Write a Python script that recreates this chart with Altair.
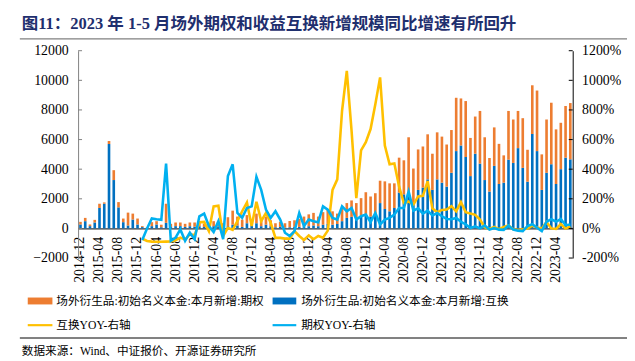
import altair as alt
import pandas as pd


def month_range(year, month, n):
    out = []
    for _ in range(n):
        out.append(f"{year}-{month:02d}")
        month += 1
        if month > 12:
            month = 1
            year += 1
    return out


# categories: 2014-12 .. 2023-07
months = month_range(2014, 12, 104)
tick_months = months[::4]

# 场外衍生品:初始名义本金:本月新增:互换 (blue, bottom of stack)
swap_new = [
    267, 489, 155, 400, 1378, 1667, 5700, 3267, 1422, 422,
    200, 600, 267, 90, 20, 155, 267, 80, 378, 90,
    155, 155, 100, 150, 120, 150, 100, 100, 150, 100,
    120, 150, 250, 200, 100, 350, 200, 350, 150, 250,
    150, 80, 100, 60, 80, 100, 100, 150, 150, 200,
    150, 250, 300, 250, 300, 489, 711, 778, 600, 822,
    933, 800, 900, 1711, 1311, 1155, 1378, 2422, 2300, 2489,
    1711, 2600, 2755, 3311, 2600, 3311, 3089, 2822, 3755, 5222,
    5600, 4822, 3533, 5044, 4377, 3266, 2489, 4222, 3000, 3089,
    4644, 4422, 5422, 4088, 3155, 6377, 5222, 2600, 3755, 4333,
    3000, 4000, 4777, 4666,
]

# top of stack = 互换 + 期权 (orange sits between swap_new and this)
stack_top = [
    444, 711, 267, 578, 1667, 1756, 5900, 3933, 1778, 667,
    1067, 1000, 667, 155, 60, 422, 489, 250, 1667, 311,
    400, 400, 311, 400, 400, 444, 311, 350, 489, 300,
    350, 756, 1200, 800, 600, 900, 600, 1000, 600, 800,
    550, 350, 450, 350, 500, 550, 650, 800, 950, 1050,
    800, 1100, 1267, 1155, 1000, 1378, 1711, 1889, 1711, 2044,
    2444, 2156, 2378, 3222, 3178, 3044, 3044, 4778, 4600, 6155,
    4044, 5333, 5533, 6355, 5044, 6488, 6200, 5666, 6644, 8822,
    8777, 8600, 6111, 7555, 7933, 6155, 4755, 6822, 5711, 4933,
    7933, 7355, 7933, 7444, 5311, 9666, 9311, 5000, 7355, 8488,
    6688, 7133, 8266, 8466,
]

# 互换YOY (%), right axis, starts 2016-01
swap_yoy = [None] * 13 + [
    -70, -85, -89, -90, -90, -89, -88, -80, -62, -75, -40, -45,
    42, 44, -18, 149, 153, -51, 4, -10, 49, 116,
    175, 16, 180, 49, 104, 38, -64, -64, -69, -69,
    -18, -51, -78, -47, -73, -51, -62, -15, 260, 331,
    793, 1064, 660, 204, 527, 582, 671, 838, 1020, 560,
    433, 438, 282, 171, 182, 160, 216, 220, 320, 135,
    110, 125, 127, 150, 115, 178, 110, 100, 92, 60,
    8, -4, 10, -5, 10, 20, -5, -10, -6, 0,
    18, 7, 0, 44, 0, -4, 29, 0, 13,
]

# 期权YOY (%), right axis
option_yoy = [None] * 13 + [
    -78, 0, 67, 62, 58, 438, -84, -62, -7, -84, -29, -73,
    82, 100, 16, -24, 49, -73, 353, 433, 104, 71,
    138, 149, 349, 260, 127, 71, 116, 60, -29, -51,
    -18, 104, 16, 60, 49, 42, 149, 127, 71, 60,
    149, 116, 138, 60, 82, 93, 42, 104, 27, 60,
    71, 93, 138, 138, 249, 120, 135, 100, 120, 87,
    104, 82, 64, 62, 71, 45, 27, 3, 14, 0,
    20, -8, 2, -8, -10, 20, -8, -15, -18, 16,
    28, 4, -18, 45, 62, 45, 64, 22, 27,
]

left_ticks = [-2000, 0, 2000, 4000, 6000, 8000, 10000, 12000]
right_ticks = [-200, 0, 200, 400, 600, 800, 1000, 1200]

title_text = "图11：2023 年 1-5 月场外期权和收益互换新增规模同比增速有所回升"
legend_labels = [
    "场外衍生品:初始名义本金:本月新增:期权",
    "场外衍生品:初始名义本金:本月新增:互换",
    "互换YOY-右轴",
    "期权YOY-右轴",
]
source_text = "数据来源：Wind、中证报价、开源证券研究所"

ORANGE = "#ED7D31"
BLUE = "#0070C0"
YELLOW = "#FFC000"
CYAN = "#00B0F0"
SERIF = "Liberation Serif, Noto Sans CJK SC"

W, H = 501, 210

df = pd.DataFrame({
    "month": months,
    "swap": swap_new,
    "top": stack_top,
    "swap_yoy": swap_yoy,
    "option_yoy": option_yoy,
})

xenc = alt.X(
    "month:N",
    sort=months,
    scale=alt.Scale(type="band", paddingInner=0.45, paddingOuter=0.225),
    axis=alt.Axis(
        values=tick_months, labelAngle=-90, labelAlign="right", labelBaseline="middle",
        offset=-30, ticks=False, domainColor="#000000", domainWidth=1,
        labelFont=SERIF, labelFontSize=14, labelColor="#000000", labelPadding=8,
        labelOverlap=False, title=None,
    ),
)

lscale = alt.Scale(domain=[-2000, 12000], nice=False, zero=False)
laxis = alt.Axis(
    values=left_ticks, orient="left", ticks=False, domainColor="#808080", grid=False,
    labelFont=SERIF, labelFontSize=14, labelColor="#000000", labelPadding=10,
    format="d", title=None,
)
rscale = alt.Scale(domain=[-200, 1200], nice=False, zero=False)
raxis = alt.Axis(
    values=right_ticks, orient="right", ticks=False, domainColor="#000000", grid=False,
    labelFont=SERIF, labelFontSize=14, labelColor="#000000", labelPadding=9,
    labelExpr="datum.value + '%'", title=None,
)

blue_bars = alt.Chart(df).mark_bar(color=BLUE).encode(
    x=xenc, y=alt.Y("swap:Q", scale=lscale, axis=laxis)
)
orange_bars = alt.Chart(df).mark_bar(color=ORANGE).encode(
    x=xenc, y=alt.Y("swap:Q", scale=lscale, axis=laxis), y2="top:Q"
)
lt_df = pd.DataFrame({"v": left_ticks})
left_tickmarks = alt.Chart(lt_df).mark_rule(color="#808080").encode(
    x=alt.value(0), x2=alt.value(4), y=alt.Y("v:Q", scale=lscale, axis=laxis)
)

yellow_line = alt.Chart(df).transform_filter("isValid(datum.swap_yoy)").mark_line(
    color=YELLOW, strokeWidth=2.6
).encode(x=xenc, y=alt.Y("swap_yoy:Q", scale=rscale, axis=raxis))
cyan_line = alt.Chart(df).transform_filter("isValid(datum.option_yoy)").mark_line(
    color=CYAN, strokeWidth=2.6
).encode(x=xenc, y=alt.Y("option_yoy:Q", scale=rscale, axis=raxis))
rt_df = pd.DataFrame({"v": right_ticks})
right_tickmarks = alt.Chart(rt_df).mark_rule(color="#000000").encode(
    x=alt.value(W - 4), x2=alt.value(W), y=alt.Y("v:Q", scale=rscale, axis=raxis)
)

left_layer = alt.layer(blue_bars, orange_bars, left_tickmarks)
right_layer = alt.layer(yellow_line, cyan_line, right_tickmarks)

one = alt.Data(values=[{}])


def text_at(txt, x, y, size, color="#000000", weight="normal"):
    return alt.Chart(one).mark_text(
        text=txt, align="left", baseline="middle", font=SERIF, fontSize=size,
        color=color, fontWeight=weight,
    ).encode(x=alt.value(x), y=alt.value(y))


def hrule(x1, x2, y, color, width):
    return alt.Chart(one).mark_rule(color=color, strokeWidth=width).encode(
        x=alt.value(x1), x2=alt.value(x2), y=alt.value(y)
    )


def box(x1, x2, y1, y2, color):
    return alt.Chart(one).mark_rect(color=color).encode(
        x=alt.value(x1), x2=alt.value(x2), y=alt.value(y1), y2=alt.value(y2)
    )


annots = [
    text_at(title_text, -57, -27, 16.7, "#1F2F6E", "bold"),
    hrule(-59, 560, -12, "#808080", 1.5),
    box(-51, -26, 250, 257, ORANGE),
    text_at(legend_labels[0], -22, 254, 11.8),
    box(197, 221, 250, 257, BLUE),
    text_at(legend_labels[1], 226, 254, 11.8),
    hrule(-51, -26, 278, YELLOW, 2.2),
    text_at(legend_labels[2], -22, 278, 11.8),
    hrule(197, 221, 278, CYAN, 2.2),
    text_at(legend_labels[3], 226, 278, 11.8),
    hrule(-59, 560, 291, "#000000", 1),
    text_at(source_text, -57, 304, 11.8),
]

chart = alt.layer(
    alt.layer(left_layer, right_layer).resolve_scale(y="independent"),
    *annots,
).properties(
    width=W, height=H,
    padding={"left": 71, "top": 41, "right": 55, "bottom": 100},
    autosize=alt.AutoSizeParams(type="none"),
).configure_view(stroke=None)

chart.save("out.html", embed_options={"renderer": "svg", "actions": False})
